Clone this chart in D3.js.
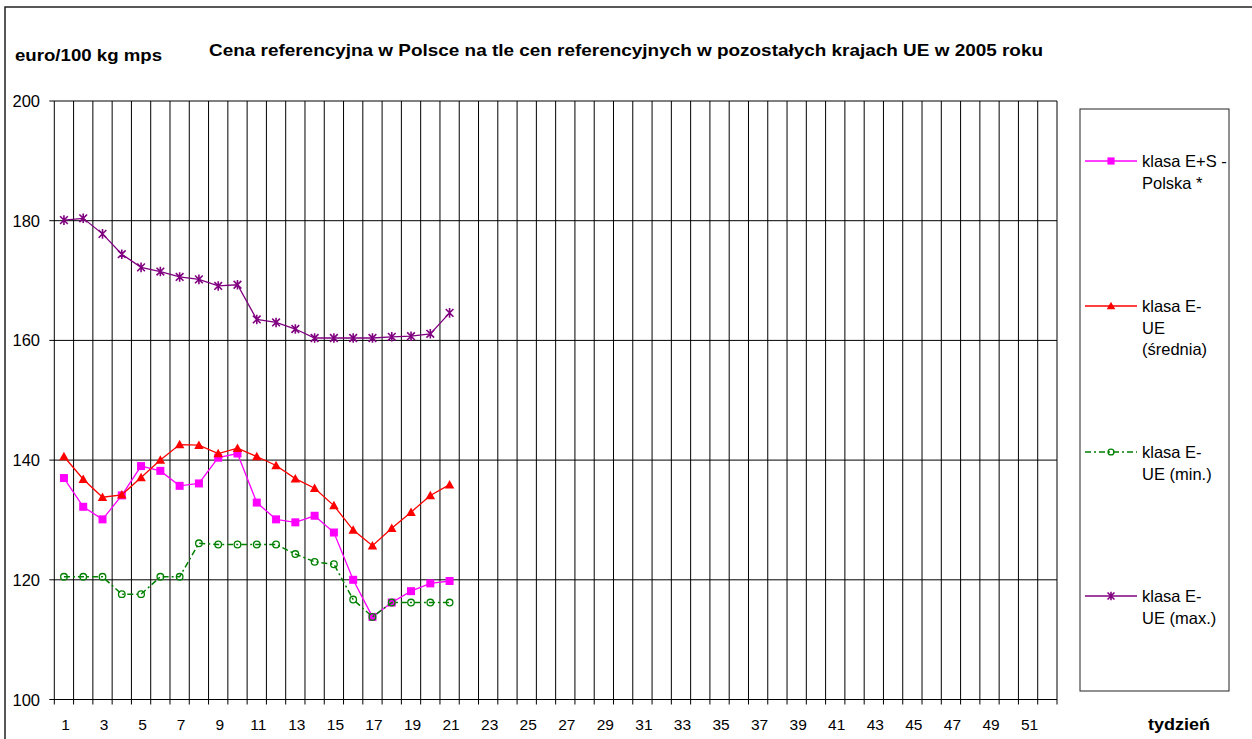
<!DOCTYPE html>
<html>
<head>
<meta charset="utf-8">
<script src="https://cdn.jsdelivr.net/npm/d3@7"></script>
<style>
  body { margin: 0; background: #fff; }
  text { font-family: "Liberation Sans", Arial, sans-serif; }
</style>
</head>
<body>
<div id="chart"></div>
<script>
// weeks 1..52, data known for weeks 1..21
const weeks = d3.range(1, 53);
const polska  = [137.0,132.2,130.1,134.1,139.0,138.2,135.7,136.1,140.4,141.1,132.9,130.1,129.6,130.7,127.9,120.0,113.8,116.2,118.1,119.4,119.8];
const srednia = [140.6,136.8,133.8,134.2,137.1,140.0,142.6,142.5,141.1,142.0,140.6,139.1,136.9,135.3,132.4,128.3,125.7,128.6,131.3,134.1,135.9];
const minimum = [120.5,120.5,120.5,117.6,117.6,120.5,120.5,126.1,125.9,125.9,125.9,125.9,124.3,123.0,122.6,116.7,113.8,116.2,116.2,116.2,116.2];
const maximum = [180.1,180.4,177.8,174.4,172.2,171.5,170.6,170.2,169.1,169.3,163.5,163.0,161.9,160.4,160.4,160.4,160.4,160.6,160.7,161.1,164.6];
const yTicks = [100, 120, 140, 160, 180, 200];
const xTickLabels = weeks.filter(w => w % 2 === 1);

const series = [
  {name: ["klasa E+S -", "Polska *"], values: polska, color: "#ff00ff", marker: "square", dash: null},
  {name: ["klasa E-", "UE", "(średnia)"], values: srednia, color: "#ff0000", marker: "triangle", dash: null},
  {name: ["klasa E-", "UE (min.)"], values: minimum, color: "#008000", marker: "circle", dash: "6,3,2,3"},
  {name: ["klasa E-", "UE (max.)"], values: maximum, color: "#800080", marker: "star", dash: null},
];
const legendY = [161, 306, 452, 596];

const width = 1252, height = 739;
const plot = {left: 54.3, right: 1057, top: 101, bottom: 699.5};

const svg = d3.select("#chart").append("svg")
    .attr("width", width)
    .attr("height", height);

// outer frame
svg.append("rect")
    .attr("x", 5).attr("y", 7)
    .attr("width", 1300).attr("height", 800)
    .attr("fill", "#fff")
    .attr("stroke", "#222")
    .attr("stroke-width", 1.5);

const x = d3.scaleBand()
    .domain(weeks)
    .range([plot.left, plot.right])
    .padding(0);
const cx = d => x(d) + x.bandwidth() / 2;

const y = d3.scaleLinear()
    .domain([100, 200])
    .range([plot.bottom, plot.top]);

// grid
const grid = svg.append("g");
grid.selectAll(".vg")
    .data(weeks.concat([53]))
    .join("line")
        .attr("x1", (d, i) => plot.left + i * x.bandwidth())
        .attr("x2", (d, i) => plot.left + i * x.bandwidth())
        .attr("y1", plot.top)
        .attr("y2", plot.bottom + 5)
        .attr("stroke", "#000")
        .attr("stroke-width", 1);
grid.selectAll(".hg")
    .data(yTicks)
    .join("line")
        .attr("x1", plot.left - 5)
        .attr("x2", plot.right)
        .attr("y1", d => y(d))
        .attr("y2", d => y(d))
        .attr("stroke", "#000")
        .attr("stroke-width", 1);

// y labels
svg.append("g").selectAll("text")
    .data(yTicks)
    .join("text")
        .attr("x", 40)
        .attr("y", d => y(d) + 6)
        .attr("text-anchor", "end")
        .attr("font-size", 16.5)
        .text(d => d);

// x labels
svg.append("g").selectAll("text")
    .data(xTickLabels)
    .join("text")
        .attr("x", d => cx(d) + 1.5)
        .attr("y", 730)
        .attr("text-anchor", "middle")
        .attr("font-size", 15.5)
        .text(d => d);

// titles
svg.append("text")
    .attr("x", 209).attr("y", 56)
    .attr("font-size", 16.5).attr("font-weight", "bold")
    .attr("textLength", 834).attr("lengthAdjust", "spacingAndGlyphs")
    .text("Cena referencyjna w Polsce na tle cen referencyjnych w pozostałych krajach UE w 2005 roku");
svg.append("text")
    .attr("x", 15).attr("y", 61)
    .attr("font-size", 16.5).attr("font-weight", "bold")
    .attr("textLength", 147).attr("lengthAdjust", "spacingAndGlyphs")
    .text("euro/100 kg mps");
svg.append("text")
    .attr("x", 1148).attr("y", 730)
    .attr("font-size", 16.5).attr("font-weight", "bold")
    .attr("textLength", 62).attr("lengthAdjust", "spacingAndGlyphs")
    .text("tydzień");

// markers
function drawMarker(g, type, color, px, py, scale = 1) {
    if (type === "square") {
        const s = 8 * scale;
        g.append("rect")
            .attr("x", px - s / 2).attr("y", py - s / 2)
            .attr("width", s).attr("height", s)
            .attr("fill", color);
    } else if (type === "triangle") {
        const s = 9.5 * scale;
        g.append("path")
            .attr("d", `M${px},${py - s / 2} L${px + s / 2},${py + s / 2 - 1} L${px - s / 2},${py + s / 2 - 1} Z`)
            .attr("fill", color);
    } else if (type === "circle") {
        g.append("circle")
            .attr("cx", px).attr("cy", py)
            .attr("r", 3.3 * scale)
            .attr("fill", "none")
            .attr("stroke", color)
            .attr("stroke-width", 1.3);
    } else if (type === "star") {
        const r = 4.8 * scale;
        const d = r * 0.8;
        g.append("path")
            .attr("d", `M${px},${py - r} L${px},${py + r} M${px - d},${py - d} L${px + d},${py + d} M${px - d},${py + d} L${px + d},${py - d}`)
            .attr("stroke", color)
            .attr("stroke-width", 1.6)
            .attr("fill", "none");
    }
}

const line = d3.line()
    .x((d, i) => cx(weeks[i]))
    .y(d => y(d));

series.forEach(s => {
    const g = svg.append("g");
    g.append("path")
        .attr("d", line(s.values))
        .attr("fill", "none")
        .attr("stroke", s.color)
        .attr("stroke-width", s.marker === "circle" ? 1.5 : 1.3)
        .attr("stroke-dasharray", s.dash);
    s.values.forEach((v, i) => drawMarker(g, s.marker, s.color, cx(weeks[i]), y(v)));
});

// legend
const legend = svg.append("g");
legend.append("rect")
    .attr("x", 1080).attr("y", 109)
    .attr("width", 149).attr("height", 582)
    .attr("fill", "#fff")
    .attr("stroke", "#222")
    .attr("stroke-width", 1);

series.forEach((s, i) => {
    const ly = legendY[i];
    legend.append("line")
        .attr("x1", 1085).attr("x2", 1137)
        .attr("y1", ly).attr("y2", ly)
        .attr("stroke", s.color)
        .attr("stroke-width", s.marker === "circle" ? 1.5 : 1.3)
        .attr("stroke-dasharray", s.dash);
    drawMarker(legend, s.marker, s.color, 1111, ly, 0.9);
    legend.append("text")
        .attr("x", 1142)
        .attr("y", ly + 6)
        .attr("font-size", 16.5)
        .selectAll("tspan")
        .data(s.name)
        .join("tspan")
            .attr("x", 1142)
            .attr("dy", (d, j) => j === 0 ? 0 : 21.5)
            .text(d => d);
});
</script>
</body>
</html>
